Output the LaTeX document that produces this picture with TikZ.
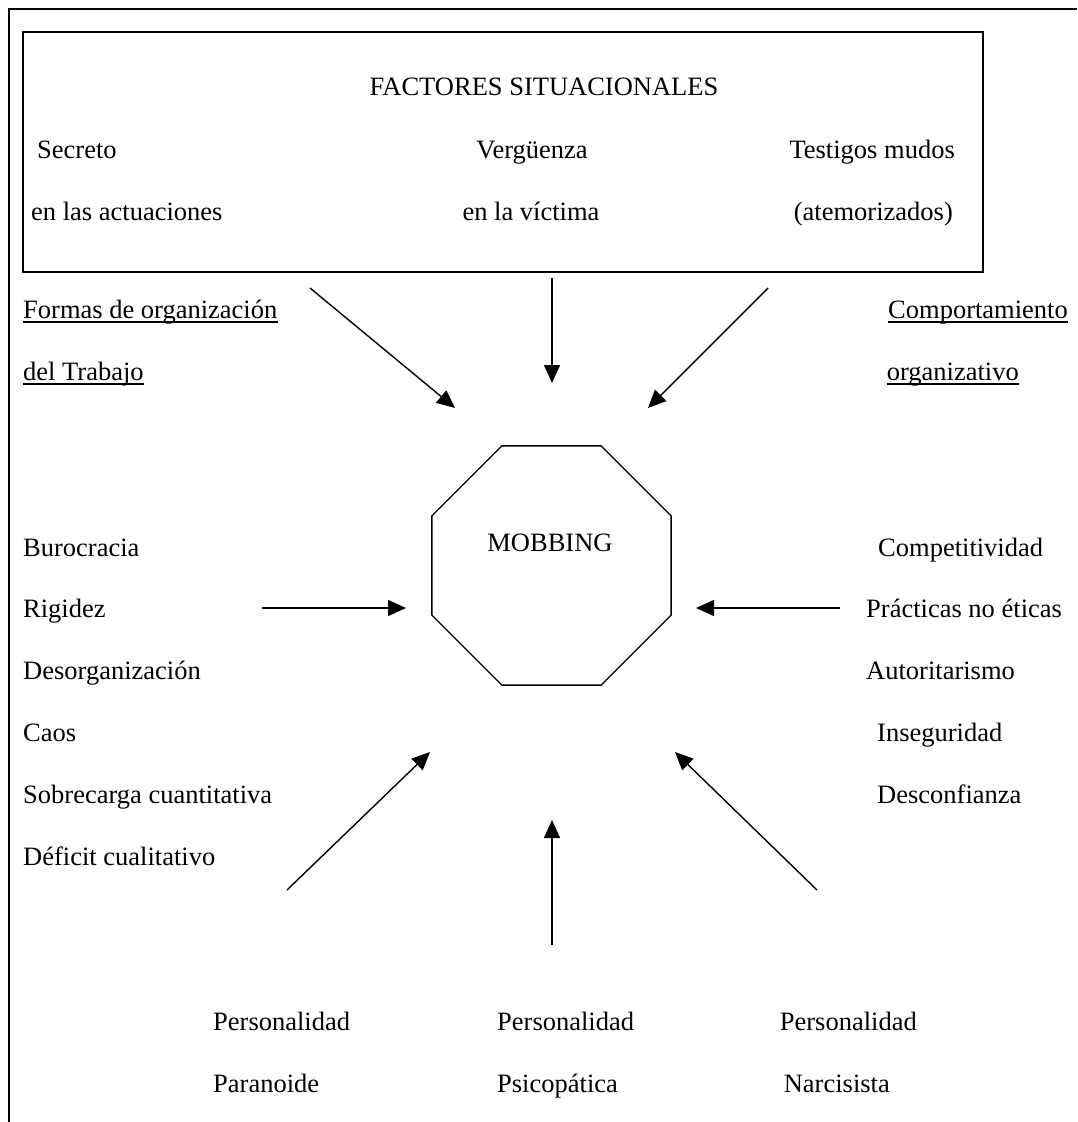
\documentclass[tikz,border=0pt]{standalone}
\usepackage{fontspec}
\setmainfont{Liberation Serif}
\usetikzlibrary{arrows.meta,shapes.geometric}
\newcommand\diagfont{\fontsize{26.5}{32}\selectfont}
\begin{document}
\begin{tikzpicture}[x=1pt,y=-1pt,
  t/.style={inner sep=0pt, font=\diagfont},
  arr/.style={-{Triangle[length=18pt,width=16pt]}, line width=1.4pt},
  uline/.style={line width=1.2pt}]
\useasboundingbox (0,0) rectangle (1077,1122);
% outer partial frame
\draw[line width=2.8pt] (9,1122) -- (9,9) -- (1077,9);
% top box
\node[draw, line width=1.6pt, inner sep=0pt, minimum width=960pt, minimum height=240pt] (box) at (503,152) {};
\node[t, anchor=base] (fs) at (544,95) {FACTORES SITUACIONALES};
\node[t, anchor=base west] (s1) at (37,158) {Secreto};
\node[t, anchor=base west] (s2) at (31,220) {en las actuaciones};
\node[t, anchor=base] (v1) at (532,158) {Vergüenza};
\node[t, anchor=base] (v2) at (531,220) {en la víctima};
\node[t, anchor=base east] (tm1) at (955,158) {Testigos mudos};
\node[t, anchor=base east] (tm2) at (953,220) {(atemorizados)};
% octagon
\node[draw, regular polygon, regular polygon sides=8, minimum size=259pt, inner sep=0pt, line width=1.3pt] (oct) at (551.5,565.5) {};
\node[t, anchor=base] (mob) at (550,551) {MOBBING};
% side headings
\node[t, anchor=base west] (fo1) at (23,318) {Formas de organización};
\node[t, anchor=base west] (fo2) at (23,380) {del Trabajo};
\draw[uline] ([yshift=-4pt]fo1.base west) -- ([yshift=-4pt]fo1.base east);
\draw[uline] ([yshift=-4pt]fo2.base west) -- ([yshift=-4pt]fo2.base east);
\node[t, anchor=base east] (co1) at (1068,318) {Comportamiento};
\node[t, anchor=base east] (co2) at (1019,380) {organizativo};
\draw[uline] ([yshift=-4pt]co1.base west) -- ([yshift=-4pt]co1.base east);
\draw[uline] ([yshift=-4pt]co2.base west) -- ([yshift=-4pt]co2.base east);
% left list
\node[t, anchor=base west] (l1) at (23,556) {Burocracia};
\node[t, anchor=base west] (l2) at (23,617) {Rigidez};
\node[t, anchor=base west] (l3) at (23,679) {Desorganización};
\node[t, anchor=base west] (l4) at (23,741) {Caos};
\node[t, anchor=base west] (l5) at (23,803) {Sobrecarga cuantitativa};
\node[t, anchor=base west] (l6) at (23,865) {Déficit cualitativo};
% right list
\node[t, anchor=base west] (r1) at (878,556) {Competitividad};
\node[t, anchor=base west] (r2) at (866,617) {Prácticas no éticas};
\node[t, anchor=base west] (r3) at (866,679) {Autoritarismo};
\node[t, anchor=base west] (r4) at (877,741) {Inseguridad};
\node[t, anchor=base west] (r5) at (877,803) {Desconfianza};
% bottom
\node[t, anchor=base west] (p1a) at (213,1030) {Personalidad};
\node[t, anchor=base west] (p1b) at (213,1092) {Paranoide};
\node[t, anchor=base west] (p2a) at (497,1030) {Personalidad};
\node[t, anchor=base west] (p2b) at (497,1092) {Psicopática};
\node[t, anchor=base east] (p3a) at (917,1030) {Personalidad};
\node[t, anchor=base east] (p3b) at (890,1092) {Narcisista};
% arrows
\coordinate (a1s) at (310,288); \coordinate (a1e) at (455,408);
\coordinate (a2s) at (552,278); \coordinate (a2e) at (552,383);
\coordinate (a3s) at (768,288); \coordinate (a3e) at (648,408);
\coordinate (a4s) at (262,608); \coordinate (a4e) at (406,608);
\coordinate (a5s) at (840,608); \coordinate (a5e) at (696,608);
\coordinate (a6s) at (287,890); \coordinate (a6e) at (430,752);
\coordinate (a7s) at (552,945); \coordinate (a7e) at (552,820);
\coordinate (a8s) at (817,890); \coordinate (a8e) at (675,752);
\foreach \i in {1,...,8} { \draw[arr] (a\i s) -- (a\i e); }
\end{tikzpicture}
\end{document}
